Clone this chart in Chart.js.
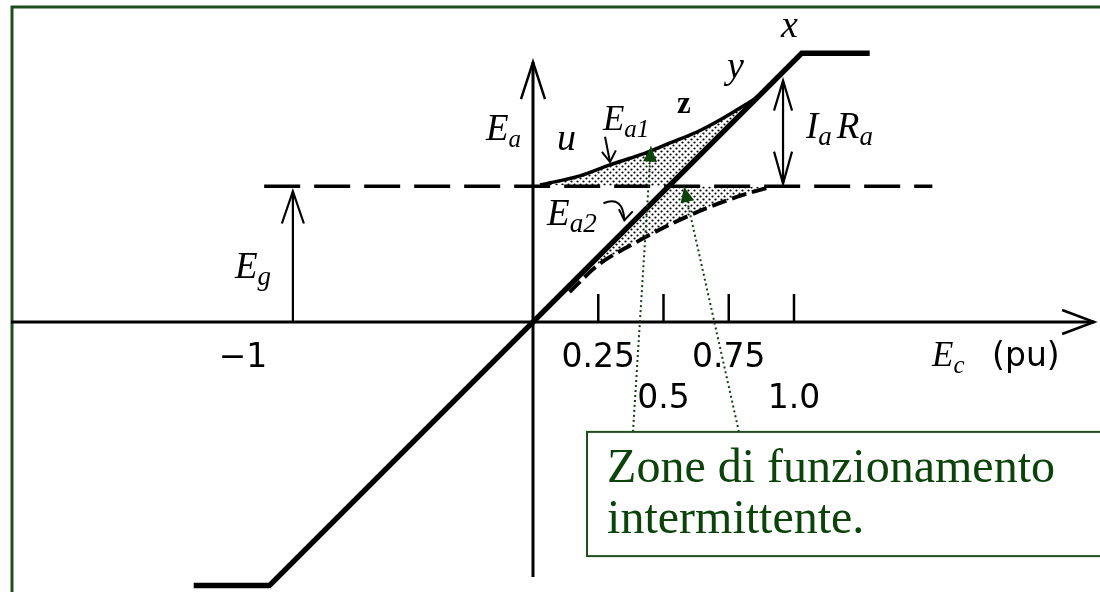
<!DOCTYPE html>
<html>
<head>
<meta charset="utf-8">
<script src="https://cdn.jsdelivr.net/npm/chart.js@4.4.1/dist/chart.umd.min.js"></script>
<style>
  html, body { margin: 0; padding: 0; background: #ffffff; }
  #wrap { width: 1100px; height: 592px; }
</style>
</head>
<body>
<div id="wrap"><canvas id="chart" width="1100" height="592"></canvas></div>
<script>
// Ea = f(Ec) characteristic, per-unit values
const characteristicX = [-1.30, -1.01, 1.03, 1.29];
const characteristicY = [-1.01, -1.01, 1.03, 1.03];

// generator emf Eg (horizontal dashed line)
const egLevel = 0.52;
const egSpan = [-1.03, 1.53];

// upper curve Ea1 (u - z - y)
const ea1X = [0.027, 0.18, 0.295, 0.41, 0.525, 0.628, 0.716, 0.793, 0.858, 0.89];
const ea1Y = [0.525, 0.56, 0.602, 0.64, 0.686, 0.728, 0.774, 0.820, 0.862, 0.89];

// lower dashed curve Ea2
const ea2X = [0.14, 0.249, 0.398, 0.536, 0.667, 0.805, 0.908];
const ea2Y = [0.115, 0.218, 0.307, 0.379, 0.437, 0.487, 0.517];

// Ec axis ticks
const tickValues = [0.25, 0.5, 0.75, 1.0];
const tickLabels = ['0.25', '0.5', '0.75', '1.0'];

const ORIGIN_X = 533, ORIGIN_Y = 322, UNIT = 261;
const GREEN = '#1e4d1e';
const TEXT_GREEN = '#0b430b';

const pts = (xs, ys) => xs.map((x, i) => ({ x: x, y: ys[i] }));

function dotPattern() {
    const c = document.createElement('canvas');
    c.width = 6; c.height = 6;
    const g = c.getContext('2d');
    g.fillStyle = '#000';
    [[1.5, 1.5], [4.5, 4.5]].forEach(p => {
        g.beginPath();
        g.arc(p[0], p[1], 1.1, 0, Math.PI * 2);
        g.fill();
    });
    return g.createPattern(c, 'repeat');
}

function openArrow(ctx, tx, ty, angle, len, half) {
    const bx = tx - Math.cos(angle) * len, by = ty - Math.sin(angle) * len;
    const nx = -Math.sin(angle) * half, ny = Math.cos(angle) * half;
    ctx.beginPath();
    ctx.moveTo(bx + nx, by + ny);
    ctx.lineTo(tx, ty);
    ctx.lineTo(bx - nx, by - ny);
    ctx.stroke();
}

function solidArrow(ctx, tx, ty, angle, len, half) {
    const bx = tx - Math.cos(angle) * len, by = ty - Math.sin(angle) * len;
    const nx = -Math.sin(angle) * half, ny = Math.cos(angle) * half;
    ctx.beginPath();
    ctx.moveTo(bx + nx, by + ny);
    ctx.lineTo(tx, ty);
    ctx.lineTo(bx - nx, by - ny);
    ctx.closePath();
    ctx.fill();
}

function subLabel(ctx, x, y, main, sub, size, subSize) {
    ctx.font = 'italic ' + size + 'px "Liberation Serif"';
    ctx.fillText(main, x, y);
    let w = ctx.measureText(main).width;
    if (sub) {
        ctx.font = 'italic ' + subSize + 'px "Liberation Serif"';
        ctx.fillText(sub, x + w, y + size * 0.2);
        w += ctx.measureText(sub).width;
    }
    return w;
}

const diagramPlugin = {
    id: 'diagram',
    beforeDraw(chart) {
        const ctx = chart.ctx;
        ctx.save();
        ctx.fillStyle = '#fff';
        ctx.fillRect(0, 0, chart.width, chart.height);
        // slide frame (top and left edges)
        ctx.strokeStyle = GREEN;
        ctx.lineWidth = 3;
        ctx.beginPath();
        ctx.moveTo(12, chart.height);
        ctx.lineTo(12, 7);
        ctx.lineTo(chart.width, 7);
        ctx.stroke();
        ctx.restore();
    },
    beforeDatasetsDraw(chart) {
        const ctx = chart.ctx;
        const sx = v => chart.scales.x.getPixelForValue(v);
        const sy = v => chart.scales.y.getPixelForValue(v);
        ctx.save();
        ctx.strokeStyle = '#000';
        ctx.lineCap = 'butt';
        // Ec axis
        ctx.lineWidth = 3;
        ctx.beginPath();
        ctx.moveTo(sx(-2.0), sy(0));
        ctx.lineTo(sx(2.15), sy(0));
        ctx.stroke();
        ctx.lineWidth = 2.5;
        openArrow(ctx, sx(2.15), sy(0), 0, 32, 12);
        // Ea axis
        ctx.lineWidth = 3;
        ctx.beginPath();
        ctx.moveTo(sx(0), sy(-0.977));
        ctx.lineTo(sx(0), sy(0.996));
        ctx.stroke();
        ctx.lineWidth = 2.5;
        openArrow(ctx, sx(0), sy(0.996), -Math.PI / 2, 37, 12);
        // tick marks
        ctx.lineWidth = 2.5;
        tickValues.forEach(v => {
            ctx.beginPath();
            ctx.moveTo(sx(v), sy(0));
            ctx.lineTo(sx(v), sy(0) - 28);
            ctx.stroke();
        });
        ctx.restore();
    },
    afterDraw(chart) {
        const ctx = chart.ctx;
        const sx = v => chart.scales.x.getPixelForValue(v);
        const sy = v => chart.scales.y.getPixelForValue(v);
        ctx.save();
        ctx.strokeStyle = '#000';
        ctx.fillStyle = '#000';

        // Eg arrow
        ctx.lineWidth = 2.2;
        ctx.beginPath();
        ctx.moveTo(sx(-0.92), sy(0));
        ctx.lineTo(sx(-0.92), sy(0.50));
        ctx.stroke();
        openArrow(ctx, sx(-0.92), sy(0.50), -Math.PI / 2, 32, 11);

        // Ia Ra double arrow
        ctx.beginPath();
        ctx.moveTo(sx(0.958), sy(0.53));
        ctx.lineTo(sx(0.958), sy(0.925));
        ctx.stroke();
        openArrow(ctx, sx(0.958), sy(0.925), -Math.PI / 2, 30, 9);
        openArrow(ctx, sx(0.958), sy(0.53), Math.PI / 2, 32, 9);

        // Ea1 pointer
        ctx.lineWidth = 2;
        ctx.beginPath();
        ctx.moveTo(sx(0.276), sy(0.71));
        ctx.lineTo(sx(0.295), sy(0.613));
        ctx.stroke();
        openArrow(ctx, sx(0.295), sy(0.613), Math.PI / 2 - 0.1, 11, 7);

        // Ea2 curved pointer
        ctx.beginPath();
        ctx.moveTo(sx(0.27), sy(0.455));
        ctx.quadraticCurveTo(sx(0.345), sy(0.485), sx(0.35), sy(0.39));
        ctx.stroke();
        openArrow(ctx, sx(0.35), sy(0.39), Math.PI / 2 + 0.15, 10, 7);

        // labels
        ctx.textAlign = 'left';
        ctx.textBaseline = 'alphabetic';
        subLabel(ctx, sx(-0.18), sy(0.697), 'E', 'a', 37, 25);
        subLabel(ctx, sx(-1.142), sy(0.169), 'E', 'g', 37, 27);
        subLabel(ctx, sx(0.092), sy(0.659), 'u', '', 38, 0);
        subLabel(ctx, sx(0.268), sy(0.736), 'E', 'a1', 35, 25);
        ctx.font = 'bold 31px "Liberation Serif"';
        ctx.fillText('z', sx(0.552), sy(0.80));
        subLabel(ctx, sx(0.743), sy(0.935), 'y', '', 38, 0);
        subLabel(ctx, sx(0.95), sy(1.092), 'x', '', 38, 0);
        const w1 = subLabel(ctx, sx(1.046), sy(0.705), 'I', 'a', 37, 27);
        subLabel(ctx, sx(1.046) + w1 + 5, sy(0.705), 'R', 'a', 37, 27);
        subLabel(ctx, sx(0.054), sy(0.372), 'E', 'a2', 37, 27);
        subLabel(ctx, sx(1.529), sy(-0.169), 'E', 'c', 35, 25);
        ctx.font = '33px "DejaVu Sans"';
        ctx.fillText('(pu)', sx(1.759), sy(-0.169));

        ctx.textAlign = 'center';
        tickValues.forEach((v, i) => {
            ctx.fillText(tickLabels[i], sx(v), sy(i % 2 === 0 ? -0.172 : -0.33));
        });
        ctx.fillText('\u22121', sx(-1.111), sy(-0.172));

        // leader lines to the shaded zones
        const leaders = [[0.383, -0.421, 0.452, 0.672], [0.789, -0.421, 0.579, 0.517]];
        ctx.strokeStyle = TEXT_GREEN;
        ctx.fillStyle = TEXT_GREEN;
        ctx.lineWidth = 2;
        ctx.setLineDash([2, 3]);
        leaders.forEach(l => {
            ctx.beginPath();
            ctx.moveTo(sx(l[0]), sy(l[1]));
            ctx.lineTo(sx(l[2]), sy(l[3]));
            ctx.stroke();
        });
        ctx.setLineDash([]);
        leaders.forEach(l => {
            const a = Math.atan2(sy(l[3]) - sy(l[1]), sx(l[2]) - sx(l[0]));
            solidArrow(ctx, sx(l[2]), sy(l[3]), a, 15, 7);
        });

        // callout box
        const bx = sx(0.207), by = sy(-0.421), bh = sy(-0.897) - by;
        ctx.fillStyle = '#fff';
        ctx.fillRect(bx, by, chart.width - bx + 10, bh);
        ctx.strokeStyle = GREEN;
        ctx.lineWidth = 2;
        ctx.strokeRect(bx, by, chart.width - bx + 10, bh);
        ctx.fillStyle = TEXT_GREEN;
        ctx.textAlign = 'left';
        ctx.font = '48px "Liberation Serif"';
        ctx.fillText('Zone di funzionamento', sx(0.284), sy(-0.613));
        ctx.fillText('intermittente.', sx(0.284), sy(-0.808));
        ctx.restore();
    }
};

const dots = dotPattern();

const upperZoneX = [...ea1X, egLevel];
const upperZoneY = [...ea1Y, egLevel];
const lowerZoneX = [egLevel, ...ea2X.slice(1).reverse(), ea2X[1]];
const lowerZoneY = [egLevel, ...ea2Y.slice(1).reverse(), ea2X[1]];

new Chart(document.getElementById('chart'), {
    type: 'line',
    data: {
        datasets: [
            { data: pts(upperZoneX, upperZoneY), fill: 'shape', backgroundColor: dots, borderWidth: 0, pointRadius: 0, order: 5 },
            { data: pts(lowerZoneX, lowerZoneY), fill: 'shape', backgroundColor: dots, borderWidth: 0, pointRadius: 0, order: 5 },
            { data: pts(characteristicX, characteristicY), borderColor: '#000', borderWidth: 5.5, pointRadius: 0, fill: false },
            { data: pts(egSpan, [egLevel, egLevel]), borderColor: '#000', borderWidth: 3.5, borderDash: [36, 14], pointRadius: 0, fill: false },
            { data: pts(ea1X, ea1Y), borderColor: '#000', borderWidth: 3.5, cubicInterpolationMode: 'monotone', pointRadius: 0, fill: false },
            { data: pts(ea2X, ea2Y), borderColor: '#000', borderWidth: 4, borderDash: [15, 6], cubicInterpolationMode: 'monotone', pointRadius: 0, fill: false }
        ]
    },
    options: {
        responsive: false,
        animation: false,
        devicePixelRatio: 1,
        layout: { padding: 0 },
        plugins: { legend: { display: false }, tooltip: { enabled: false } },
        scales: {
            x: { type: 'linear', min: -ORIGIN_X / UNIT, max: (1100 - ORIGIN_X) / UNIT, display: false },
            y: { type: 'linear', min: (ORIGIN_Y - 592) / UNIT, max: ORIGIN_Y / UNIT, display: false }
        }
    },
    plugins: [diagramPlugin]
});
</script>
</body>
</html>
